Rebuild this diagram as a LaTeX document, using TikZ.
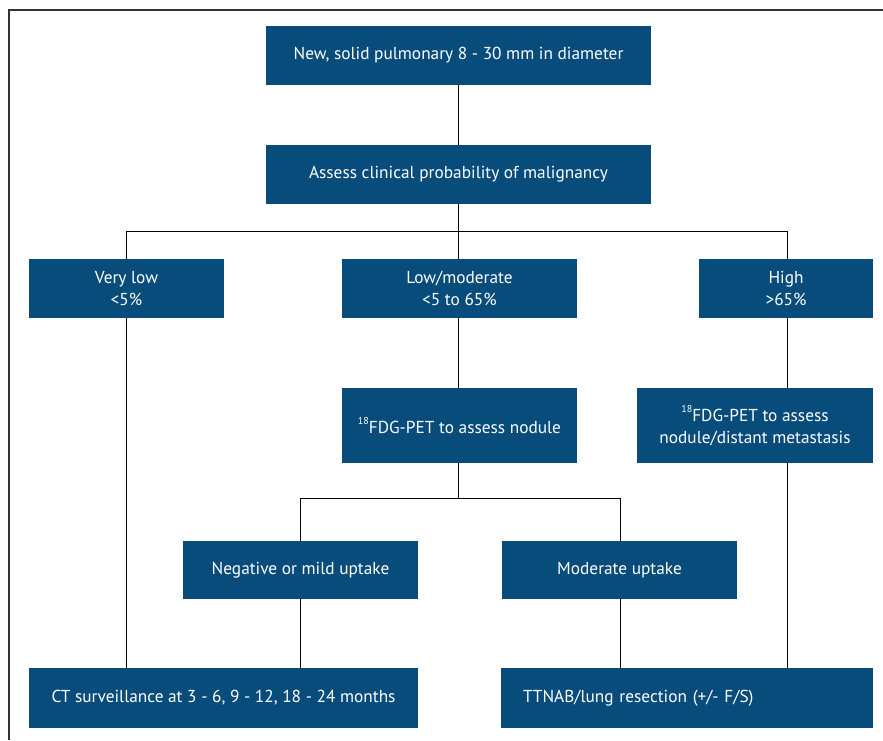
\documentclass[tikz,border=0pt]{standalone}
\usepackage{fontspec}
\setmainfont{PT Sans}
\definecolor{boxblue}{HTML}{084C7C}
\newcommand{\isotope}[1]{\raisebox{0.55em}{\fontsize{10}{10}\selectfont #1}}
\begin{document}
\begin{tikzpicture}[x=1pt,y=-1pt,
  bx/.style={fill=boxblue,draw=none,text=white,align=center,font=\fontsize{17.3}{21.5}\selectfont,inner sep=0pt},
  ln/.style={draw=black,line width=0.9pt}]
\useasboundingbox (0,0) rectangle (883,740);
\draw[line width=1.2pt,draw=black!80] (9,740) -- (9,10) -- (883,10);
% boxes
\node[bx,minimum width=385pt,minimum height=59pt] (b1) at (458.5,55.5) {New, solid pulmonary 8 - 30 mm in diameter};
\node[bx,minimum width=385pt,minimum height=59pt] (b2) at (458.5,174.5) {Assess clinical probability of malignancy};
\node[bx,minimum width=195pt,minimum height=59pt] (b3) at (126.5,288.5) {Very low\\<5\%};
\node[bx,minimum width=235pt,minimum height=59pt] (b4) at (459.5,288.5) {Low/moderate\\<5 to 65\%};
\node[bx,minimum width=174pt,minimum height=59pt] (b5) at (786,288.5) {High\\>65\%};
\node[bx,minimum width=235pt,minimum height=75pt] (b6) at (459.5,425.5) {\isotope{18}FDG-PET to assess nodule};
\node[bx,minimum width=236pt,minimum height=75pt] (b7) at (755,425.5) {\isotope{18}FDG-PET to assess\\nodule/distant metastasis};
\node[bx,minimum width=235pt,minimum height=58pt] (b8) at (300.5,570) {Negative or mild uptake};
\node[bx,minimum width=235pt,minimum height=58pt] (b9) at (619.5,570) {Moderate uptake};
\node[bx,minimum width=389pt,minimum height=60pt] (b10) at (223.5,698) {CT surveillance at 3 - 6, 9 - 12, 18 - 24 months};
\node[bx,minimum height=60pt,inner xsep=22pt,text width=328pt,align=left] (b11) at (687,698) {TTNAB/lung resection (+/- F/S)};
% junction coordinates
\coordinate (j1) at (458,231);
\coordinate (j2) at (458,498);
% connectors
\draw[ln] (b1.south -| j1) -- (b2.north -| j1);
\draw[ln] (b2.south -| j1) -- (j1);
\draw[ln] (b3.north -| 126,0) -- (126,231) -- (787,231) -- (b5.north -| 787,0);
\draw[ln] (j1) -- (b4.north -| j1);
\draw[ln] (b3.south -| 126,0) -- (b10.north -| 126,0);
\draw[ln] (b4.south -| j1) -- (b6.north -| j1);
\draw[ln] (b6.south -| j1) -- (j2);
\draw[ln] (b8.north -| 300,0) -- (300,498) -- (620,498) -- (b9.north -| 620,0);
\draw[ln] (b8.south -| 300,0) -- (b10.north -| 300,0);
\draw[ln] (b9.south -| 620,0) -- (b11.north -| 620,0);
\draw[ln] (b5.south -| 787,0) -- (b7.north -| 787,0);
\draw[ln] (b7.south -| 787,0) -- (b11.north -| 787,0);
\end{tikzpicture}
\end{document}
